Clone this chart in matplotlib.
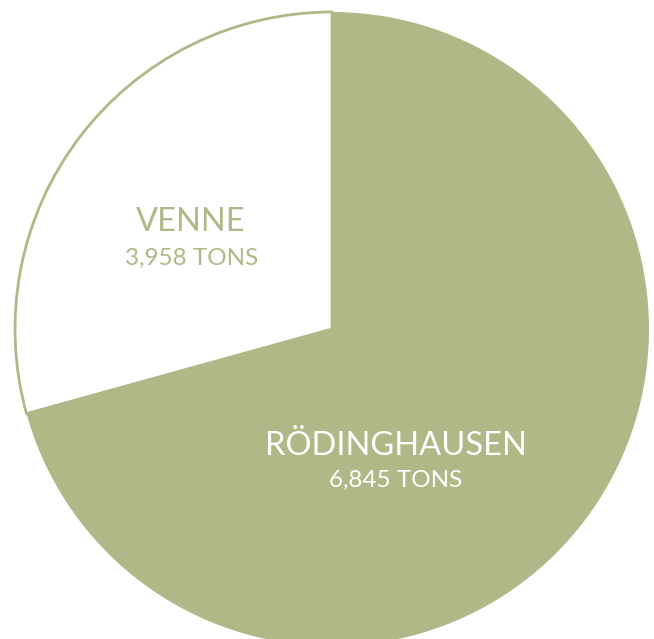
import matplotlib.pyplot as plt

# Daten
orte = ['VENNE', 'RÖDINGHAUSEN']
tonnen = [3958, 6845]
# Anteile (Winkel der Segmente)
anteile = [29.3, 70.7]

gruen = '#afb886'

fig = plt.figure(figsize=(6.54, 6.39), dpi=100)
ax = fig.add_axes([0, 0, 1, 1])

wedges, _ = ax.pie(anteile, colors=['white', gruen], startangle=90,
                   counterclock=True, center=(332, 310), radius=317,
                   frame=True)
ax.set_xlim(0, 654)
ax.set_ylim(0, 639)
ax.set_aspect('equal')
ax.axis('off')
wedges[0].set_edgecolor(gruen)
wedges[0].set_linewidth(2)
wedges[1].set_linewidth(0)

font = ['Lato', 'DejaVu Sans']
# Beschriftungen
ax.text(191, 639 - 222, orte[0], ha='center', va='center', fontsize=23.5,
        color=gruen, family=font)
ax.text(192, 639 - 258, f'{tonnen[0]:,} TONS', ha='center', va='center',
        fontsize=17.5, color=gruen, family=font)
ax.text(396, 639 - 446, orte[1], ha='center', va='center', fontsize=23.5,
        color='white', family=font)
ax.text(396, 639 - 480, f'{tonnen[1]:,} TONS', ha='center', va='center',
        fontsize=17.5, color='white', family=font)

fig.savefig('out.png', dpi=100)
